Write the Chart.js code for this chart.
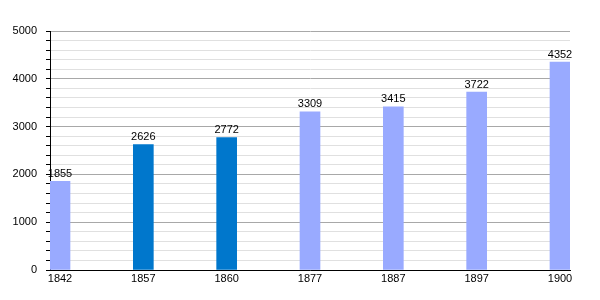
<!DOCTYPE html>
<html><head><meta charset="utf-8">
<script src="https://cdn.jsdelivr.net/npm/chart.js@4"></script>
<style>html,body{margin:0;padding:0;background:#fff}#w{width:600px;height:300px}</style>
</head><body><div id="w"><canvas id="c" width="600" height="300"></canvas></div>
<script>
const years = ['1842','1857','1860','1877','1887','1897','1900'];
const population = [1855, 2626, 2772, 3309, 3415, 3722, 4352];
const highlighted = [false, true, true, false, false, false, false];
const yTickMax = 5000;
const yMinorStep = 200;

const LIGHT = 'rgb(153,170,255)';
const DARK = 'rgb(0,119,204)';
const FONT = 'Liberation Sans, Arial, sans-serif';

const valueLabels = {
  id: 'valueLabels',
  afterDatasetsDraw(chart) {
    const ctx = chart.ctx;
    const meta = chart.getDatasetMeta(0);
    ctx.save();
    ctx.font = '11px ' + FONT;
    ctx.fillStyle = '#000';
    ctx.textAlign = 'center';
    ctx.textBaseline = 'bottom';
    meta.data.forEach((el, i) => {
      ctx.fillText(String(population[i]), el.x, el.y - 2);
    });
    ctx.restore();
  }
};

new Chart(document.getElementById('c'), {
  type: 'bar',
  data: {
    datasets: [{
      data: population.map((v, i) => ({x: i, y: v})),
      backgroundColor: highlighted.map(h => h ? DARK : LIGHT),
      barThickness: 20,
      borderWidth: 0
    }]
  },
  options: {
    responsive: false,
    animation: false,
    events: [],
    layout: {padding: {left: 0, right: 30, top: 31, bottom: 0}},
    plugins: {legend: {display: false}, tooltip: {enabled: false}},
    scales: {
      x: {
        type: 'linear',
        offset: false,
        min: -0.12, max: 6.12,
        afterBuildTicks: s => { s.ticks = years.map((_, i) => ({value: i})); },
        afterFit: s => { s.height = 30; },
        grid: {display: false, drawTicks: false, offset: false},
        border: {display: true, color: '#000', width: 1},
        ticks: {
          autoSkip: false, maxRotation: 0, padding: 2,
          color: '#000', font: {family: FONT, size: 11},
          callback: v => years[v]
        }
      },
      y: {
        min: 0, max: yTickMax,
        afterBuildTicks: s => {
          const t = [];
          for (let v = 0; v <= yTickMax; v += yMinorStep) t.push({value: v});
          s.ticks = t;
        },
        afterFit: s => { s.width = 50; },
        grid: {
          color: c => (c.tick && c.tick.value % 1000 === 0) ? '#a8a8a8' : '#e0e0e0',
          tickColor: '#000',
          tickLength: 4,
          drawOnChartArea: true
        },
        border: {display: true, color: '#000', width: 1},
        ticks: {
          autoSkip: false, padding: 9,
          color: '#000', font: {family: FONT, size: 11},
          callback: v => (v % 1000 === 0) ? String(v) : ''
        }
      }
    }
  },
  plugins: [valueLabels]
});
</script>
</body></html>
